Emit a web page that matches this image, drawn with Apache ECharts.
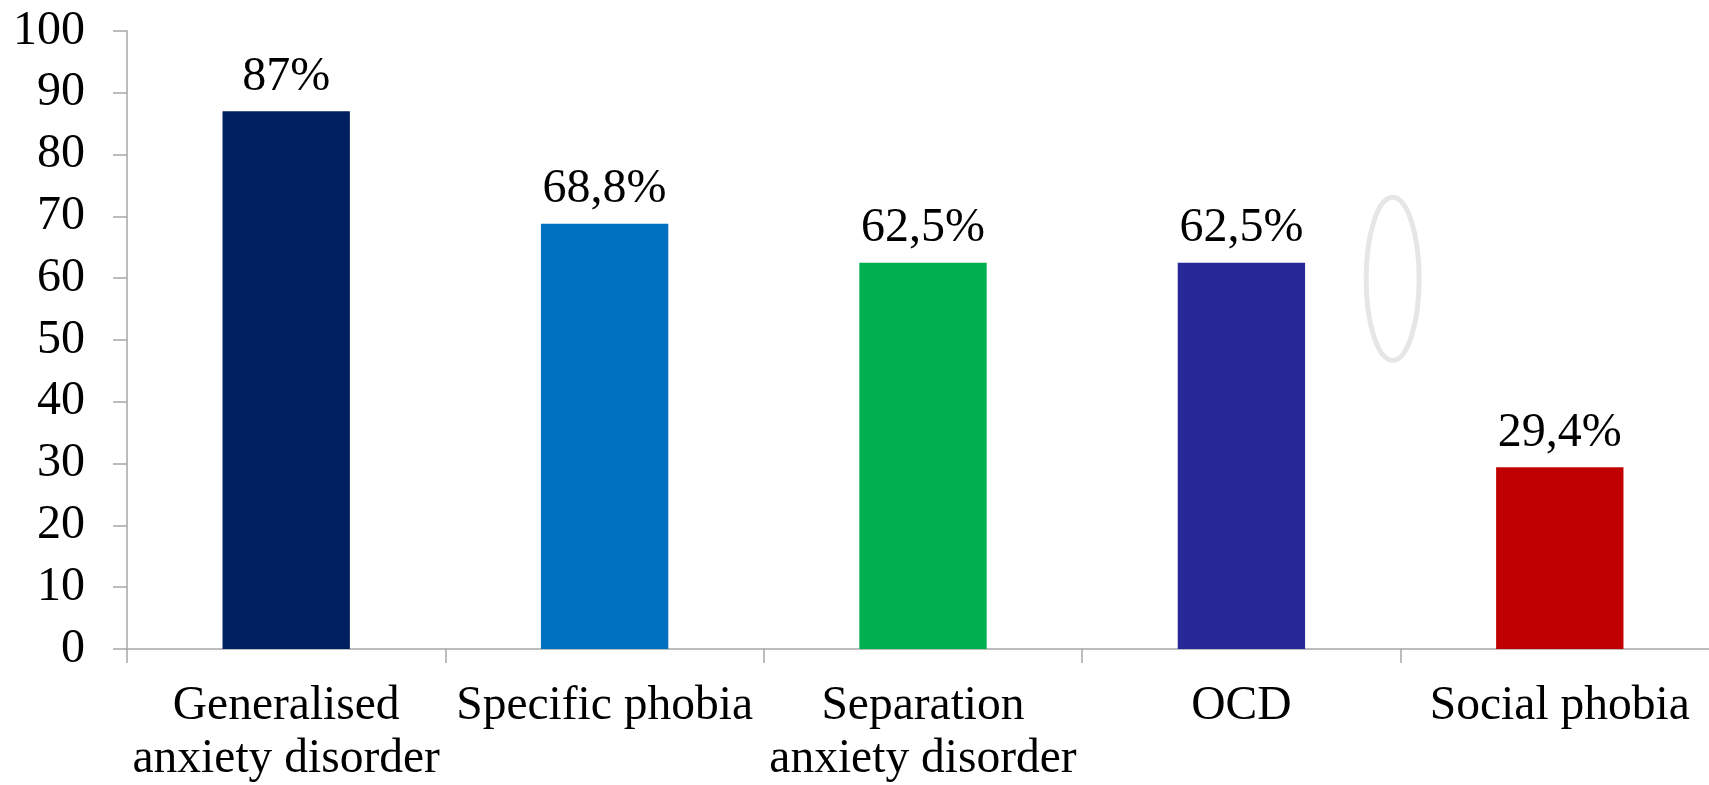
<!DOCTYPE html>
<html>
<head>
<meta charset="utf-8">
<script src="https://cdn.jsdelivr.net/npm/echarts@6/dist/echarts.min.js"></script>
<style>
  html, body { margin: 0; padding: 0; background: #fff; }
  #chart { width: 1709px; height: 785px; }
</style>
</head>
<body>
<div id="chart"></div>
<script>
// Prevalence of anxiety disorders (%)
const categories = [
  'Generalised\nanxiety disorder',
  'Specific phobia',
  'Separation\nanxiety disorder',
  'OCD',
  'Social phobia'
];
const values = [87, 68.8, 62.5, 62.5, 29.4];
const barColors = ['#002060', '#0070C0', '#00B050', '#282899', '#C00000'];
const yTicks = [0, 10, 20, 30, 40, 50, 60, 70, 80, 90, 100];

// Outline ellipse between the OCD and Social phobia bars:
// [category index, fraction toward next category, lower value, upper value]
const ellipseSpan = [3, 0.475, 46.3, 73.5];

const FONT = '"Liberation Serif", "Times New Roman", serif';
const AXIS_COLOR = '#A6A6A6';

const chart = echarts.init(document.getElementById('chart'));

chart.setOption({
  backgroundColor: '#ffffff',
  animation: false,
  // the plot runs slightly past the right edge of the canvas
  grid: {
    left: 127, top: 31, height: 618, width: 1592,
    containLabel: false,
    outerBoundsMode: 'none'
  },
  xAxis: {
    type: 'category',
    data: categories,
    axisLine: { lineStyle: { color: AXIS_COLOR, width: 1.5 } },
    axisTick: { show: true, length: 14, lineStyle: { color: AXIS_COLOR, width: 1.5 } },
    axisLabel: {
      color: '#000',
      fontFamily: FONT,
      fontSize: 47.5,
      lineHeight: 53,
      margin: 31,
      interval: 0
    }
  },
  yAxis: {
    type: 'value',
    min: yTicks[0],
    max: yTicks[yTicks.length - 1],
    interval: yTicks[1] - yTicks[0],
    splitLine: { show: false },
    axisLine: { show: true, lineStyle: { color: AXIS_COLOR, width: 1.5 } },
    axisTick: { show: true, length: 14, lineStyle: { color: AXIS_COLOR, width: 1.5 } },
    axisLabel: {
      color: '#000',
      fontFamily: FONT,
      fontSize: 48,
      margin: 42
    }
  },
  series: [
    {
      type: 'bar',
      barWidth: '40%',
      data: values.map((v, i) => ({ value: v, itemStyle: { color: barColors[i] } })),
      label: {
        show: true,
        position: 'top',
        distance: 10,
        color: '#000',
        fontFamily: FONT,
        fontSize: 48,
        formatter: p => String(p.value).replace('.', ',') + '%'
      }
    },
    {
      type: 'custom',
      silent: true,
      z: 5,
      data: [ellipseSpan],
      renderItem: function (params, api) {
        const idx = api.value(0);
        const frac = api.value(1);
        const lo = api.value(2);
        const hi = api.value(3);
        const a = api.coord([idx, lo]);
        const b = api.coord([idx + 1, hi]);
        const cx = a[0] + (b[0] - a[0]) * frac;
        const cy = (a[1] + b[1]) / 2;
        const ry = Math.abs(a[1] - b[1]) / 2 - 2.5;
        return {
          type: 'ellipse',
          shape: { cx: cx, cy: cy, rx: 26.5, ry: ry },
          style: { fill: 'none', stroke: '#E6E6E6', lineWidth: 5 }
        };
      }
    }
  ]
});
</script>
</body>
</html>
